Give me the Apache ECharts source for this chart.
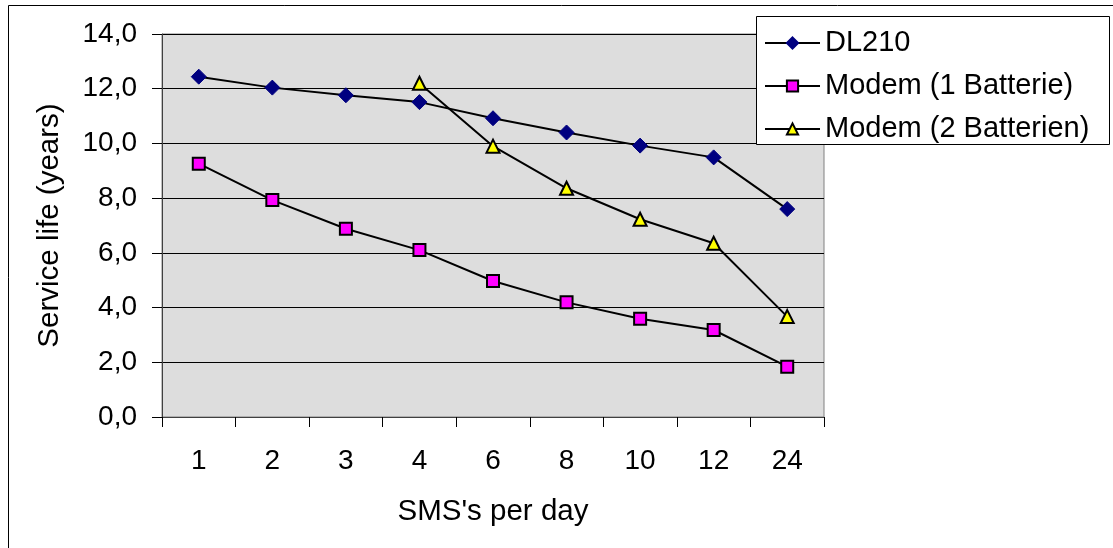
<!DOCTYPE html>
<html>
<head>
<meta charset="utf-8">
<script src="https://cdn.jsdelivr.net/npm/echarts@6/dist/echarts.min.js"></script>
<style>
html,body{margin:0;padding:0;background:#fff;}
#chart{width:1113px;height:548px;}
</style>
</head>
<body>
<div id="chart"></div>
<script>
var categories = ['1', '2', '3', '4', '6', '8', '10', '12', '24'];
var dl210 = [12.44, 12.04, 11.76, 11.51, 10.92, 10.40, 9.92, 9.49, 7.60];
var modem1 = [9.26, 7.93, 6.88, 6.10, 4.97, 4.19, 3.59, 3.18, 1.84];
var modem2 = [null, null, null, 12.2, 9.9, 8.36, 7.23, 6.35, 3.67];
var seriesNames = ['DL210', 'Modem (1 Batterie)', 'Modem (2 Batterien)'];
var yTicks = { min: 0, max: 14, interval: 2 };

var FONT = 'Liberation Sans, Arial, sans-serif';
var chart = echarts.init(document.getElementById('chart'), null, { renderer: 'canvas' });
chart.setOption({
  animation: false,
  backgroundColor: '#ffffff',
  graphic: [
    { type: 'rect', z: -10, shape: { x: 8.5, y: 5.5, width: 1120, height: 560 },
      style: { fill: '#ffffff', stroke: '#000000', lineWidth: 1 } },
    { type: 'rect', z: 10, shape: { x: 756.5, y: 16.5, width: 353, height: 128 },
      style: { fill: '#ffffff', stroke: '#000000', lineWidth: 1 } }
  ],
  grid: {
    left: 162, right: 289, top: 34, bottom: 131,
    show: true, backgroundColor: '#DDDDDD', borderColor: '#808080', borderWidth: 1
  },
  legend: {
    z: 20,
    orient: 'vertical',
    left: 756, top: 16,
    padding: [12, 8, 4, 8],
    itemWidth: 55, itemHeight: 14, itemGap: 13,
    textStyle: { fontFamily: FONT, fontSize: 29, color: '#000', lineHeight: 30 },
    data: seriesNames
  },
  xAxis: {
    type: 'category',
    data: categories,
    boundaryGap: true,
    name: "SMS's per day",
    nameLocation: 'middle',
    nameGap: 80,
    nameTextStyle: { fontFamily: FONT, fontSize: 29.5, color: '#000' },
    axisLine: { show: true, lineStyle: { color: '#404040', width: 1 } },
    axisTick: { show: true, length: 10, lineStyle: { color: '#000' } },
    axisLabel: { fontFamily: FONT, fontSize: 28, color: '#000', margin: 30 },
    splitLine: { show: false }
  },
  yAxis: {
    type: 'value',
    min: yTicks.min, max: yTicks.max, interval: yTicks.interval,
    name: 'Service life (years)',
    nameLocation: 'middle',
    nameGap: 97,
    nameTextStyle: { fontFamily: FONT, fontSize: 29.5, color: '#000' },
    axisLine: { show: true, lineStyle: { color: '#404040', width: 1 } },
    axisTick: { show: true, length: 10, lineStyle: { color: '#000' } },
    axisLabel: {
      fontFamily: FONT, fontSize: 28, color: '#000', margin: 25,
      formatter: function (v) { return v.toFixed(1).replace('.', ','); }
    },
    splitLine: { show: true, lineStyle: { color: '#000', width: 1 } }
  },
  series: [
    {
      name: seriesNames[0], type: 'line', data: dl210,
      symbol: 'diamond', symbolSize: 15, showAllSymbol: true,
      lineStyle: { color: '#000', width: 2 },
      itemStyle: { color: '#000080', borderColor: '#000080', borderWidth: 1 },
      z: 3
    },
    {
      name: seriesNames[1], type: 'line', data: modem1,
      symbol: 'rect', symbolSize: 12, showAllSymbol: true,
      lineStyle: { color: '#000', width: 2 },
      itemStyle: { color: '#FF00FF', borderColor: '#000', borderWidth: 2 },
      z: 3
    },
    {
      name: seriesNames[2], type: 'line', data: modem2,
      symbol: 'triangle', symbolSize: 13, showAllSymbol: true,
      lineStyle: { color: '#000', width: 2 },
      itemStyle: { color: '#FFFF00', borderColor: '#000', borderWidth: 2 },
      z: 3
    }
  ]
});
</script>
</body>
</html>
